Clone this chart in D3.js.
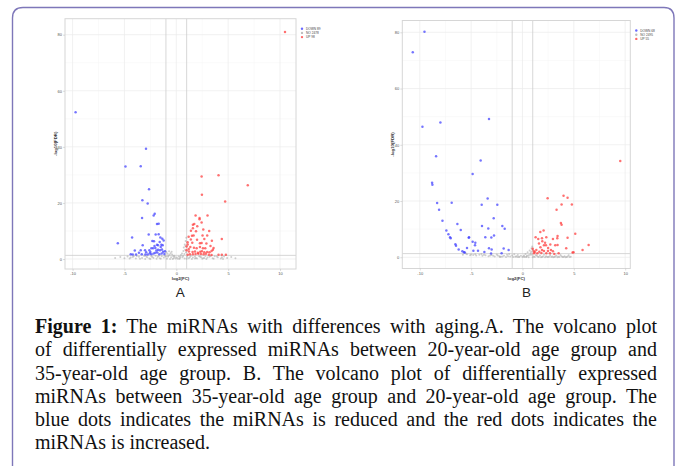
<!DOCTYPE html>
<html>
<head>
<meta charset="utf-8">
<script src="https://cdn.jsdelivr.net/npm/d3@7/dist/d3.min.js"></script>
<style>
    body { margin: 0; background: #fff; width: 675px; height: 466px; overflow: hidden; position: relative; }
    svg { position: absolute; left: 0; top: 0; }
    #caption { position: absolute; left: 35px; top: 315px; width: 622px;
        font-family: "Liberation Serif", "Times New Roman", serif; font-size: 20px; line-height: 23.3px; color: #111; }
    #caption .line { text-align: justify; text-align-last: justify; }
    #caption .line.last { text-align-last: left; }
</style>
</head>
<body>
<svg id="fig" width="675" height="466"></svg>
<div id="caption"></div>
<script>
/* Ось X и Y, общие для обеих панелей */
const xTicks = [-10, -5, 0, 5, 10];
const yTicks = [0, 20, 40, 60, 80];
const xMinor = [-7.5, -2.5, 2.5, 7.5];
const yMinor = [10, 30, 50, 70];
const fcCut = [-1, 1];
const fdrCut = 1.3;

/* Панель A: [log2FC, -log10(FDR)] */
const aDown = [[-9.71,52.3],[-2.92,39.3],[-4.9,33.0],[-3.43,33.1],[-2.63,24.9],[-3.27,21.0],[-2.76,19.8],[-2.08,16.1],[-2.18,15.5],[-3.30,14.6],
    [-1.86,12.5],[-1.70,12.6],[-2.66,8.7],[-1.99,8.7],[-1.70,8.8],[-4.26,7.7],[-1.54,7.7],[-1.35,7.2],[-1.22,6.6],[-5.64,5.6],
    [-3.24,4.9],[-2.31,6.4],[-2.15,6.3],[-1.86,5.1],[-1.76,4.9],[-1.44,5.1],[-1.31,4.9],[-4.0,3.0],[-3.43,3.1],[-3.01,3.1],
    [-2.40,3.8],[-2.24,3.8],[-2.02,3.9],[-1.76,3.3],[-1.57,3.1],[-1.38,3.4],[-4.39,1.7],[-4.2,1.6],[-3.88,1.6],[-3.33,1.7],
    [-2.98,1.6],[-2.76,1.6],[-2.56,2.0],[-2.40,1.7],[-2.18,2.0],[-2.02,2.2],[-1.83,2.3],[-1.64,1.7],[-1.41,2.0],[-1.09,2.8],
    [-2.5,2.5],[-1.92,3.0],[-2.6,3.1],[-1.15,1.8],[-1.27,2.6],[-3.6,2.2],[-2.9,2.4],[-1.5,4.3],[-2.1,4.6],[-1.6,6.1]];
const aUp = [[10.48,81.0],[2.44,29.4],[4.07,29.9],[6.89,26.3],[2.47,22.9],[4.71,20.5],[1.86,15.5],[2.24,14.6],[3.01,15.5],[1.60,12.2],
    [1.73,12.5],[2.02,11.7],[2.44,13.0],[2.24,14.2],[1.41,10.1],[3.17,10.0],[1.67,8.4],[2.53,8.4],[2.98,8.4],[1.19,7.9],
    [1.51,8.3],[4.39,7.1],[3.43,6.5],[1.09,6.0],[1.54,5.8],[2.28,5.6],[2.44,5.7],[3.59,3.9],[3.53,3.3],[0.99,4.5],
    [1.35,4.3],[1.7,4.0],[1.96,3.8],[2.28,4.3],[2.57,3.8],[2.79,3.8],[0.99,3.1],[1.22,2.7],[1.57,2.5],[1.80,2.7],
    [2.08,2.2],[2.31,2.6],[2.47,2.8],[2.70,2.4],[2.98,2.5],[3.2,2.4],[3.4,2.9],[1.09,1.5],[1.31,1.7],[1.60,1.7],
    [1.86,1.8],[2.12,1.9],[2.37,1.8],[2.63,1.7],[2.85,1.9],[3.14,1.5],[3.40,1.4],[4.07,1.5],[4.39,1.5],[4.78,1.5],
    [1.2,3.6],[1.4,7.0],[2.0,6.9],[2.7,7.1],[3.3,4.6],[1.9,9.9],[2.6,10.5],[1.1,5.2],[2.9,5.5],[1.6,11.0]];
const aNo = [[-5.9,0.4],[-5.4,0.7],[-5.0,0.3],[-4.7,0.9],[-4.4,0.5],[-4.1,1.0],[-3.9,0.2],[-3.6,0.8],[-3.3,0.4],[-3.1,1.1],
    [-2.8,0.6],[-2.6,0.2],[-2.4,0.9],[-2.2,0.4],[-2.0,1.2],[-1.8,0.7],[-1.6,0.3],[-1.4,1.0],[-1.2,0.5],[-1.1,1.2],
    [-0.95,2.4],[-0.85,1.9],[-0.8,0.8],[-0.7,2.8],[-0.65,1.5],[-0.55,2.1],[-0.5,0.6],[-0.4,1.6],[-0.3,1.0],[-0.25,0.3],
    [-0.15,0.7],[-0.05,0.2],[0.05,0.5],[0.15,0.1],[0.25,0.9],[0.35,0.4],[0.45,1.4],[0.55,2.0],[0.6,0.6],[0.68,2.9],
    [0.72,4.1],[0.78,1.8],[0.82,5.2],[0.86,3.3],[0.9,6.4],[0.93,2.4],[0.96,7.6],[1.05,0.8],[1.2,0.3],[1.4,1.1],
    [1.6,0.5],[1.8,0.9],[2.0,0.2],[2.2,1.0],[2.4,0.6],[2.6,0.3],[2.8,1.1],[3.0,0.5],[3.2,0.8],[3.5,0.3],
    [3.7,1.0],[4.0,0.6],[4.3,0.2],[4.6,0.9],[4.9,0.4],[5.3,0.7],[5.7,0.3],[-0.9,0.1],[-1.9,0.1],[-3.0,0.05],
    [0.8,0.15],[1.5,0.05],[2.5,0.1],[-0.35,0.05],
    [-4.5,0.15],[-3.5,0.1],[-2.5,0.05],[-1.5,0.1],[-0.6,0.0],[0.3,0.0],[1.0,0.1],[1.8,0.15],[2.9,0.0],[3.6,0.1],
    [4.5,0.05],[-4.2,0.7],[-3.8,1.1],[-2.9,0.9],[-2.3,0.7],[-1.7,1.1],[-1.0,0.9],[-0.2,1.2],[0.4,0.8],[1.3,0.6],
    [1.9,0.4],[2.3,0.8],[2.7,0.4],[3.3,1.1],[3.9,0.9],[4.4,0.6],[-0.75,1.2],[-0.45,2.6],[0.65,1.1],[0.88,4.6]];
const aLegend = ["DOWN 89", "NO 2478", "UP 98"];

/* Панель B */
const bDown = [[-9.54,80.2],[-10.68,72.9],[-7.99,47.9],[-9.74,46.4],[-3.26,49.2],[-8.41,35.9],[-4.07,34.4],[-4.85,29.6],[-8.80,26.5],[-8.77,25.8],
    [-8.31,19.3],[-6.89,19.4],[-8.12,16.9],[-3.39,20.9],[-3.97,18.7],[-2.45,18.7],[-7.79,13.0],[-2.80,13.9],[-6.34,11.8],[-3.94,11.1],
    [-1.96,11.1],[-1.73,10.1],[-6.01,9.7],[-3.33,10.2],[-7.41,9.5],[-7.21,8.2],[-7.05,7.1],[-6.99,6.8],[-5.20,7.1],[-5.23,6.9],
    [-3.62,7.1],[-3.03,7.0],[-2.77,7.7],[-4.85,5.5],[-4.59,5.2],[-4.62,4.3],[-6.53,4.6],[-6.47,4.1],[-5.40,3.3],[-6.21,2.8],
    [-5.85,2.1],[-5.69,1.8],[-5.62,1.7],[-4.78,2.3],[-4.33,2.3],[-3.71,1.9],[-3.26,3.2],[-3.00,2.8],[-1.83,3.1],[-1.35,2.6],
    [-3.06,1.3],[-2.03,1.4]];
const bUp = [[9.52,34.2],[2.45,21.0],[4.0,21.9],[4.39,21.2],[3.81,18.8],[4.81,18.8],[3.32,16.9],[3.74,12.2],[3.81,11.6],[2.06,9.5],
    [1.74,9.0],[5.14,8.4],[1.28,7.1],[1.54,6.5],[1.90,6.8],[2.32,7.1],[2.97,6.5],[3.42,7.6],[3.39,6.8],[4.39,6.9],
    [1.93,5.7],[1.61,4.9],[2.09,4.3],[2.29,4.3],[2.71,4.5],[3.19,4.3],[3.42,4.4],[6.44,4.4],[5.85,2.6],[4.26,3.2],
    [1.09,2.2],[1.35,2.6],[1.64,2.0],[1.90,2.6],[2.09,2.2],[2.48,2.2],[2.77,2.6],[2.97,2.1],[4.88,1.7],[4.97,1.8],
    [1.12,1.4],[1.45,1.4],[1.84,1.5],[2.32,1.4],[2.68,1.4],[3.10,1.2],[3.52,1.4],[1.0,3.0],[1.2,1.9],[2.5,3.3],
    [1.75,3.6],[2.2,5.2]];
const bNo = [[-5.8,0.9],[-5.4,1.1],[-5.1,0.7],[-4.8,0.8],[-4.5,0.6],[-4.2,0.9],[-3.9,0.5],[-3.6,0.7],[-3.3,0.4],[-3.0,0.8],
    [-2.7,0.3],[-2.4,0.6],[-2.1,0.2],[-1.8,0.5],[-1.5,0.9],[-1.2,0.3],[-1.0,0.6],[-0.8,1.1],[-0.6,0.4],[-0.45,0.8],
    [-0.3,0.2],[-0.15,0.5],[0.0,0.1],[0.15,0.6],[0.3,1.2],[0.4,0.3],[0.5,1.8],[0.6,0.7],[0.7,2.4],[0.8,1.4],
    [0.88,3.2],[0.95,3.8],[0.92,0.9],[1.1,0.3],[1.3,0.8],[1.5,0.2],[1.7,0.6],[1.9,0.1],[2.1,0.9],[2.3,0.4],
    [2.5,0.1],[2.7,0.7],[2.9,0.3],[3.1,0.05],[3.3,0.6],[3.5,0.2],[3.7,0.8],[3.9,0.1],[4.1,0.4],[4.3,0.05],
    [4.5,0.7],[4.7,0.2],[-5.5,1.3],[-4.0,1.2],[-2.5,1.0],[-1.3,1.2],[0.2,0.05],[0.6,0.0],[1.2,0.05],[1.8,0.0],
    [2.4,0.05],[3.0,0.0],[3.6,0.05],[4.2,0.0],[-0.9,0.05],[-1.6,0.1],[-2.2,0.05],
    [-5.0,1.0],[-4.6,1.1],[-3.75,0.9],[-3.15,0.6],[-2.85,0.5],[-2.25,0.4],[-1.95,0.3],[-1.4,0.4],[-0.7,0.2],[-0.35,0.1],
    [0.1,0.3],[0.45,0.5],[0.75,0.9],[0.85,2.0],[0.97,2.7],[1.4,0.5],[1.6,0.1],[2.0,0.3],[2.6,0.2],[3.2,0.3],
    [3.8,0.4],[4.4,0.3],[4.6,0.1],[0.35,0.05],[1.0,0.0],[2.2,0.0],[2.8,0.05],[3.4,0.0],[4.0,0.05],[-0.5,0.05]];
const bLegend = ["DOWN 68", "NO 2495", "UP 55"];

const captionLines = [
    "The miRNAs with differences with aging.A. The volcano plot",
    "of differentially expressed miRNAs between 20-year-old age group and",
    "35-year-old age group. B. The volcano plot of differentially expressed",
    "miRNAs between 35-year-old age group and 20-year-old age group. The",
    "blue dots indicates the miRNAs is reduced and the red dots indicates the",
    "miRNAs is increased."
];

const groupColors = { down: "#3a3aff", no: "#a8a8a8", up: "#ff3434" };

const svg = d3.select("#fig");

// рамка вокруг рисунка
svg.append("path")
    .attr("d", "M12.5,470 L12.5,18 Q12.5,7.5 23,7.5 L664,7.5 Q674,7.5 674,18 L674,470")
    .attr("fill", "none")
    .attr("stroke", "#7e77b9")
    .attr("stroke-width", 1.4);

function drawVolcano(cfg) {
    const g = svg.append("g");
    const x = d3.scaleLinear().domain(cfg.xDomain).range([cfg.left, cfg.right]);
    const y = d3.scaleLinear().domain(cfg.yDomain).range([cfg.bottom, cfg.top]);

    g.append("rect")
        .attr("x", cfg.left).attr("y", cfg.top)
        .attr("width", cfg.right - cfg.left).attr("height", cfg.bottom - cfg.top)
        .attr("fill", "#fff");

    // сетка
    g.selectAll("line.vminor").data(xMinor).enter().append("line")
        .attr("x1", d => x(d)).attr("x2", d => x(d)).attr("y1", cfg.top).attr("y2", cfg.bottom)
        .attr("stroke", "#f4f4f4").attr("stroke-width", 0.5);
    g.selectAll("line.hminor").data(yMinor).enter().append("line")
        .attr("y1", d => y(d)).attr("y2", d => y(d)).attr("x1", cfg.left).attr("x2", cfg.right)
        .attr("stroke", "#f4f4f4").attr("stroke-width", 0.5);
    g.selectAll("line.vmajor").data(xTicks).enter().append("line")
        .attr("x1", d => x(d)).attr("x2", d => x(d)).attr("y1", cfg.top).attr("y2", cfg.bottom)
        .attr("stroke", "#ebebeb").attr("stroke-width", 0.7);
    g.selectAll("line.hmajor").data(yTicks).enter().append("line")
        .attr("y1", d => y(d)).attr("y2", d => y(d)).attr("x1", cfg.left).attr("x2", cfg.right)
        .attr("stroke", "#ebebeb").attr("stroke-width", 0.7);

    // пороги
    g.selectAll("line.cut").data(fcCut).enter().append("line")
        .attr("x1", d => x(d)).attr("x2", d => x(d)).attr("y1", cfg.top).attr("y2", cfg.bottom)
        .attr("stroke", "#cdcdcd").attr("stroke-width", 0.8);
    g.append("line")
        .attr("x1", cfg.left).attr("x2", cfg.right).attr("y1", y(fdrCut)).attr("y2", y(fdrCut))
        .attr("stroke", "#cdcdcd").attr("stroke-width", 0.8);

    // точки
    const groups = [["no", cfg.no, 1.0, 0.55], ["down", cfg.down, 1.25, 0.7], ["up", cfg.up, 1.25, 0.7]];
    groups.forEach(([key, data, r, op]) => {
        g.append("g").selectAll("circle").data(data).enter().append("circle")
            .attr("cx", d => x(d[0])).attr("cy", d => y(d[1])).attr("r", r)
            .attr("fill", groupColors[key]).attr("fill-opacity", op);
    });

    g.append("rect")
        .attr("x", cfg.left).attr("y", cfg.top)
        .attr("width", cfg.right - cfg.left).attr("height", cfg.bottom - cfg.top)
        .attr("fill", "none").attr("stroke", "#d6d6d6").attr("stroke-width", 1);

    // оси
    const xAxis = g.append("g").attr("transform", `translate(0,${cfg.bottom})`)
        .call(d3.axisBottom(x).tickValues(xTicks).tickSize(2).tickPadding(1.5).tickFormat(d => String(d)));
    const yAxis = g.append("g").attr("transform", `translate(${cfg.left},0)`)
        .call(d3.axisLeft(y).tickValues(yTicks).tickSize(2).tickPadding(1).tickFormat(d => String(d)));
    [xAxis, yAxis].forEach(a => {
        a.select(".domain").remove();
        a.selectAll(".tick line").attr("stroke", "#bbb").attr("stroke-width", 0.5);
        a.selectAll(".tick text").attr("fill", "#555").attr("font-size", 4)
            .attr("font-family", "Liberation Sans, Arial, sans-serif");
    });

    g.append("text")
        .attr("x", (cfg.left + cfg.right) / 2).attr("y", cfg.bottom + 11)
        .attr("text-anchor", "middle").attr("font-size", 4.3).attr("font-weight", "bold")
        .attr("font-family", "Liberation Sans, Arial, sans-serif").attr("fill", "#333")
        .text("log2(FC)");
    g.append("text")
        .attr("transform", `translate(${cfg.left - 8},${(cfg.top + cfg.bottom) / 2}) rotate(-90)`)
        .attr("text-anchor", "middle").attr("font-size", 4.3).attr("font-weight", "bold")
        .attr("font-family", "Liberation Sans, Arial, sans-serif").attr("fill", "#333")
        .text("-log10(FDR)");

    // легенда
    const keys = ["down", "no", "up"];
    const leg = g.append("g").attr("transform", `translate(${cfg.right + 6},${cfg.top + 10})`);
    leg.selectAll("circle").data(keys).enter().append("circle")
        .attr("cx", 0).attr("cy", (d, i) => i * 4.2).attr("r", 1.2)
        .attr("fill", d => groupColors[d]).attr("fill-opacity", 0.75);
    leg.selectAll("text").data(cfg.legend).enter().append("text")
        .attr("x", 4).attr("y", (d, i) => i * 4.2 + 1.1)
        .attr("font-size", 3.2).attr("fill", "#444")
        .attr("font-family", "Liberation Sans, Arial, sans-serif")
        .text(d => d);

    svg.append("text")
        .attr("x", x(0) + 4).attr("y", 297)
        .attr("text-anchor", "middle").attr("font-size", 13.5)
        .attr("font-family", "Liberation Sans, Arial, sans-serif").attr("fill", "#222")
        .text(cfg.label);
}

drawVolcano({ label: "A", left: 65, right: 296, top: 18.7, bottom: 269,
    xDomain: [-10.73, 11.54], yDomain: [-3.56, 85.7],
    down: aDown, up: aUp, no: aNo, legend: aLegend });
drawVolcano({ label: "B", left: 402.3, right: 630.3, top: 20.5, bottom: 268.5,
    xDomain: [-11.7, 10.5], yDomain: [-4.0, 84.2],
    down: bDown, up: bUp, no: bNo, legend: bLegend });

// подпись к рисунку
const cap = d3.select("#caption");
captionLines.forEach((t, i) => {
    const line = cap.append("div").attr("class", "line" + (i === captionLines.length - 1 ? " last" : ""));
    if (i === 0) line.append("b").text("Figure 1:");
    line.append("span").text((i === 0 ? " " : "") + t);
});
</script>
</body>
</html>
